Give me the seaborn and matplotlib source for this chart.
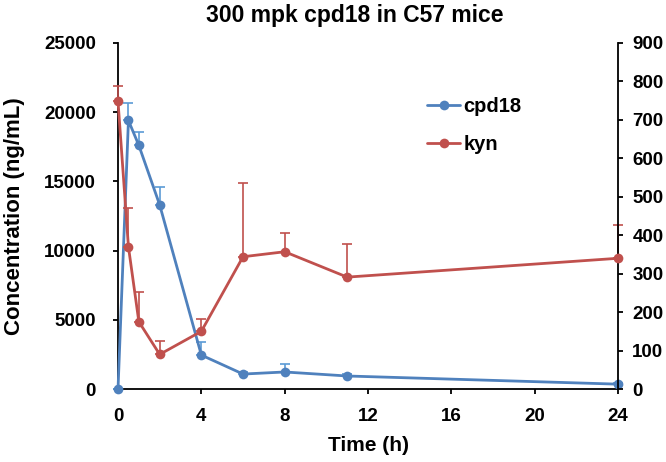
import numpy as np
import pandas as pd
import matplotlib
matplotlib.use("Agg")
import matplotlib.pyplot as plt
import seaborn as sns

# PK time points (h)
time_h = [0, 0.5, 1, 2, 4, 6, 8, 11, 24]

# cpd18 plasma concentration (ng/mL), left axis
cpd18_mean = [0, 19400, 17600, 13300, 2450, 1080, 1230, 940, 350]
cpd18_err = [0, 1250, 950, 1300, 950, 150, 550, 120, 100]

# kyn, right axis
kyn_mean = [748, 370, 175, 90, 150, 344, 357, 291, 340]
kyn_err = [40, 100, 78, 35, 32, 192, 50, 87, 86]

blue = "#4F81BD"
blue_err = "#5B9BD5"
red = "#C0504D"

sns.set_theme(style="white")
plt.rcParams["font.family"] = ["Liberation Sans", "DejaVu Sans"]
plt.rcParams["font.weight"] = "bold"
plt.rcParams["text.color"] = "black"
plt.rcParams["axes.labelcolor"] = "black"
plt.rcParams["xtick.color"] = "black"
plt.rcParams["ytick.color"] = "black"

df = pd.DataFrame({
    "time": time_h,
    "cpd18": cpd18_mean,
    "cpd18_err": cpd18_err,
    "kyn": kyn_mean,
    "kyn_err": kyn_err,
})

fig = plt.figure(figsize=(6.66, 4.62), dpi=100)
ax = fig.add_axes([0.1772, 0.158, 0.7508, 0.749])
ax2 = ax.twinx()

# error bars (upper only)
eb1 = ax.errorbar(df["time"], df["cpd18"], yerr=[np.zeros(len(df)), df["cpd18_err"]],
                  fmt="none", ecolor=blue_err, elinewidth=1.2, capsize=3.5, capthick=1.2, zorder=2)
eb2 = ax2.errorbar(df["time"], df["kyn"], yerr=[np.zeros(len(df)), df["kyn_err"]],
                   fmt="none", ecolor=red, elinewidth=1.2, capsize=3.5, capthick=1.2, zorder=2)
for eb in (eb1, eb2):
    for art in eb.lines[1] + eb.lines[2]:
        art.set_clip_on(False)

sns.lineplot(data=df, x="time", y="cpd18", ax=ax, color=blue, marker="o",
             markersize=7, markeredgewidth=0, linewidth=2, label="cpd18",
             legend=False, zorder=3, clip_on=False)
sns.lineplot(data=df, x="time", y="kyn", ax=ax2, color=red, marker="o",
             markersize=7, markeredgewidth=0, linewidth=2, label="kyn",
             legend=False, zorder=3, clip_on=False)

ax.set_xlim(0, 24)
ax.set_ylim(0, 25000)
ax2.set_ylim(0, 900)
ax.set_xticks(range(0, 25, 4))
ax.set_yticks(range(0, 25001, 5000))
ax2.set_yticks(range(0, 901, 100))

for a in (ax, ax2):
    for s in a.spines.values():
        s.set_visible(False)
    a.tick_params(axis="both", which="both", direction="out", length=3.8, width=1.3,
                  color="black", labelcolor="black", labelsize=13.5)
    for lab in a.get_xticklabels() + a.get_yticklabels():
        lab.set_fontweight("bold")

ax.spines["left"].set_visible(True)
ax.spines["bottom"].set_visible(True)
ax2.spines["right"].set_visible(True)
for s in (ax.spines["left"], ax.spines["bottom"], ax2.spines["right"]):
    s.set_color("black")
    s.set_linewidth(1.3)
ax.tick_params(axis="x", bottom=True, pad=10)
ax.tick_params(axis="y", left=True, pad=12)
ax2.tick_params(axis="y", right=True, pad=6.5)

ax.set_xlabel("Time (h)", fontsize=15, fontweight="bold", labelpad=8, color="black")
ax.set_ylabel("Concentration (ng/mL)", fontsize=16, fontweight="bold", labelpad=14, color="black")
ax2.set_ylabel("")
fig.suptitle("300 mpk cpd18 in C57 mice", fontsize=16.5, fontweight="bold",
             x=0.533, y=0.992, va="top", color="black")

h1, l1 = ax.get_legend_handles_labels()
h2, l2 = ax2.get_legend_handles_labels()
leg = ax2.legend(h1 + h2, l1 + l2, loc="upper left", bbox_to_anchor=(0.582, 0.896),
                 frameon=False, fontsize=14.5, handlelength=1.65, handletextpad=0.15,
                 labelspacing=0.95)
for t in leg.get_texts():
    t.set_fontweight("bold")
    t.set_color("black")

fig.savefig("out.png", dpi=100)
